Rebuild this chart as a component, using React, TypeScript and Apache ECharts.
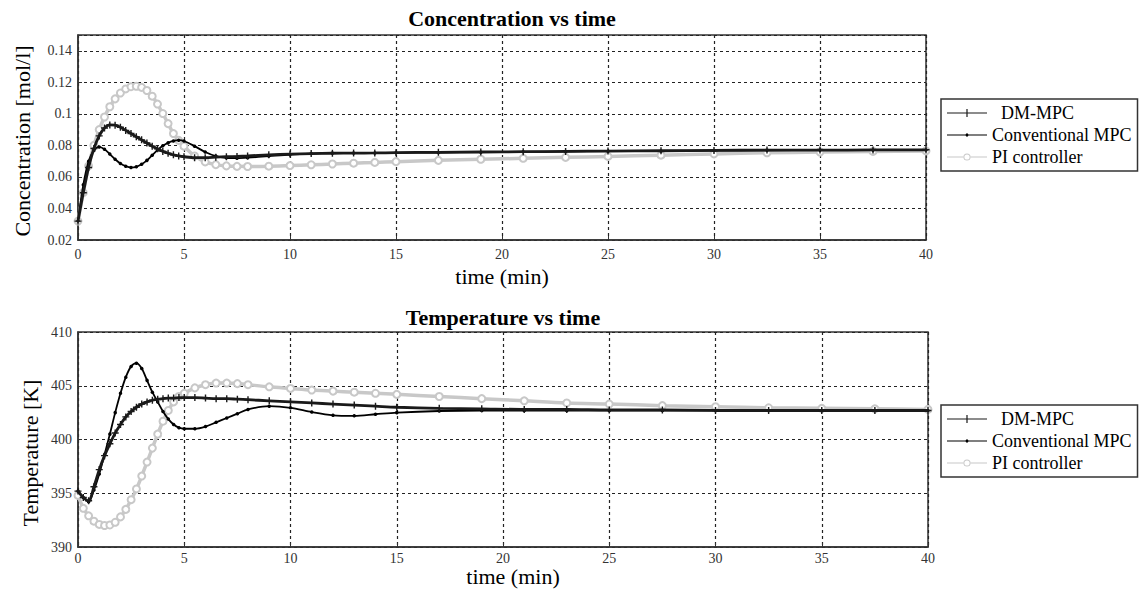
import React, { useEffect, useRef } from "react";
import * as echarts from "echarts";

const TIME = [0, 0.25, 0.5, 0.75, 1, 1.25, 1.5, 1.75, 2, 2.25, 2.5, 2.75, 3, 3.25, 3.5, 3.75, 4, 4.25, 4.5, 4.75, 5, 5.5, 6, 6.5, 7, 7.5, 8, 9, 10, 11, 12, 13, 14, 15, 17, 19, 21, 23, 25, 27.5, 30, 32.5, 35, 37.5, 40];

const CONC_DM = [0.032, 0.05, 0.066, 0.078, 0.086, 0.091, 0.093, 0.0928, 0.0915, 0.0895, 0.0875, 0.0855, 0.0835, 0.0815, 0.0795, 0.0778, 0.0762, 0.075, 0.074, 0.0733, 0.0728, 0.0722, 0.0722, 0.0725, 0.0728, 0.073, 0.0733, 0.074, 0.0745, 0.0748, 0.075, 0.0751, 0.0752, 0.0754, 0.0756, 0.0758, 0.076, 0.0762, 0.0764, 0.0766, 0.0768, 0.077, 0.077, 0.0771, 0.0772];
const CONC_CONV = [0.032, 0.055, 0.07, 0.0768, 0.079, 0.0775, 0.0745, 0.0712, 0.0685, 0.0668, 0.066, 0.0664, 0.068, 0.0705, 0.0738, 0.077, 0.0797, 0.0816, 0.0828, 0.0833, 0.0828, 0.0795, 0.0758, 0.0732, 0.0721, 0.0719, 0.0722, 0.0732, 0.0742, 0.0748, 0.0751, 0.0752, 0.0752, 0.0753, 0.0755, 0.0757, 0.0759, 0.0761, 0.0763, 0.0765, 0.0767, 0.0769, 0.077, 0.077, 0.0771];
const CONC_PI = [0.032, 0.05, 0.067, 0.08, 0.09, 0.098, 0.1045, 0.1095, 0.1132, 0.1158, 0.1172, 0.1175, 0.1168, 0.1148, 0.1112, 0.1062, 0.1002, 0.0938, 0.0875, 0.0832, 0.0795, 0.0733, 0.0695, 0.0678, 0.067, 0.0667, 0.0666, 0.0668, 0.0672, 0.0677, 0.0682, 0.0687, 0.0692, 0.0697, 0.0705, 0.0712, 0.0718, 0.0724, 0.073, 0.0738, 0.0746, 0.0753, 0.0758, 0.0762, 0.0765];

const TEMP_DM = [395.2, 394.6, 394.3, 395.6, 397.2, 398.5, 399.6, 400.6, 401.4, 402.1, 402.6, 403.0, 403.3, 403.5, 403.65, 403.75, 403.8, 403.85, 403.85, 403.9, 403.9, 403.9, 403.85, 403.8, 403.8, 403.75, 403.7, 403.6, 403.5, 403.4, 403.3, 403.2, 403.1, 403.0, 402.9, 402.85, 402.8, 402.8, 402.75, 402.75, 402.7, 402.7, 402.7, 402.7, 402.7];
const TEMP_CONV = [395.2, 394.6, 394.2, 395.3, 396.8, 398.6, 400.5, 402.5, 404.3, 405.8, 406.8, 407.1, 406.6, 405.5, 404.4, 403.5, 402.6, 401.9, 401.4, 401.1, 401.0, 401.0, 401.2, 401.6, 402.0, 402.4, 402.8, 403.1, 402.95, 402.55, 402.25, 402.2, 402.35, 402.5, 402.65, 402.7, 402.7, 402.7, 402.7, 402.7, 402.7, 402.7, 402.7, 402.7, 402.7];
const TEMP_PI = [394.8, 393.6, 392.9, 392.4, 392.1, 392.0, 392.05, 392.3, 392.8, 393.5, 394.4, 395.4, 396.6, 397.9, 399.2, 400.5, 401.7, 402.7, 403.5, 404.0, 404.3, 404.8, 405.1, 405.25, 405.25, 405.2, 405.1, 404.9, 404.75, 404.6, 404.5, 404.4, 404.3, 404.2, 404.0, 403.8, 403.6, 403.4, 403.3, 403.15, 403.05, 402.95, 402.9, 402.85, 402.8];

const SERIES_NAMES = ["DM-MPC", "Conventional MPC", "PI controller"];
const X_TICKS = [0, 5, 10, 15, 20, 25, 30, 35, 40];

const FONT = "Liberation Serif";
const PLUS = "path://M4,0 L6,0 L6,4 L10,4 L10,6 L6,6 L6,10 L4,10 L4,6 L0,6 L0,4 L4,4 Z";

// legend icons (40 x 12 box, corners pinned by tiny dots)
const PIN = "M0,0 L0.01,0 L0.01,0.01 Z M40,12 L39.99,12 L39.99,11.99 Z ";
const ICON_DM = "path://" + PIN + "M0,5.4 L40,5.4 L40,6.6 L0,6.6 Z M19.4,2 L20.6,2 L20.6,10 L19.4,10 Z";
const ICON_CONV = "path://" + PIN + "M0,5.4 L40,5.4 L40,6.6 L0,6.6 Z M20,4 L22,6 L20,8 L18,6 Z";
const ICON_PI = "path://" + PIN + "M0,5.5 L16.6,5.5 L16.6,6.5 L0,6.5 Z M23.4,5.5 L40,5.5 L40,6.5 L23.4,6.5 Z M23.6,6 A3.6,3.6 0 1 0 16.4,6 A3.6,3.6 0 1 0 23.6,6 Z M22.6,6 A2.6,2.6 0 1 1 17.4,6 A2.6,2.6 0 1 1 22.6,6 Z";
const ICONS = [ICON_DM, ICON_CONV, ICON_PI];

function pairs(vals: number[]) {
  return TIME.map((t, i) => [t, vals[i]]);
}

export default function App() {
  const ref = useRef<HTMLDivElement>(null);
  useEffect(() => {
    if (!ref.current) return;
    const chart = echarts.init(ref.current, null, { renderer: "svg" });
    const split = { show: true, lineStyle: { color: "#222", type: [3, 3] as any, width: 1.2 } };
    const axisLine = { show: true, lineStyle: { color: "#333", width: 1.5 } };
    const tickRich = { s: { fontFamily: FONT, fontSize: 14, color: "#333" } };
    const xAxisBase = (gi: number, margin: number) => ({
      type: "value",
      gridIndex: gi,
      min: X_TICKS[0],
      max: X_TICKS[X_TICKS.length - 1],
      interval: 5,
      axisLine,
      axisTick: { show: true, inside: true, length: 4, lineStyle: { color: "#333" } },
      axisLabel: { fontFamily: FONT, fontSize: 14, color: "#333", margin, rich: tickRich, formatter: (v: number) => `{s|${v}}` },
      splitLine: split,
    });
    const styles = [
      { color: "#1a1a1a", width: 2.8, symbol: PLUS, size: 7 },
      { color: "#000000", width: 1.8, symbol: "circle", size: 3.5 },
      { color: "#c8c8c8", width: 3.5, symbol: "emptyCircle", size: 7 },
    ];
    const concData = [CONC_DM, CONC_CONV, CONC_PI];
    const tempData = [TEMP_DM, TEMP_CONV, TEMP_PI];
    const order = [2, 1, 0];
    const series: any[] = [];
    for (const gi of [0, 1]) {
      for (const k of order) {
        const st = styles[k];
        series.push({
          type: "line",
          name: SERIES_NAMES[k],
          xAxisIndex: gi,
          yAxisIndex: gi,
          data: pairs(gi === 0 ? concData[k] : tempData[k]),
          smooth: 0.3,
          symbol: st.symbol,
          symbolSize: st.size,
          showSymbol: true,
          color: st.color,
          itemStyle: { color: st.color, borderColor: st.color, borderWidth: k === 2 ? 1.2 : 0 },
          lineStyle: { color: st.color, width: st.width },
          z: 3 + (2 - k),
        });
      }
    }
    const legendBase = (top: number) => ({
      orient: "vertical",
      left: 941,
      top,
      data: SERIES_NAMES.map((n, i) => ({ name: n, icon: ICONS[i] })),
      itemWidth: 40,
      itemHeight: 12,
      itemGap: 4,
      padding: [5, 6, 5, 6],
      borderColor: "#333",
      borderWidth: 1.5,
      selectedMode: false,
      itemStyle: { borderWidth: 0 },
      lineStyle: { width: 0 },
      formatter: (n: string) => (n === "DM-MPC" ? "{s|\u00a0\u00a0DM-MPC}" : `{s|${n}}`),
      textStyle: {
        fontFamily: FONT,
        fontSize: 18,
        color: "#000",
        lineHeight: 18,
        rich: { s: { fontFamily: FONT, fontSize: 18, color: "#000", lineHeight: 18 } },
      },
    });
    const text = (x: number, y: number, t: string, font: string, rot = 0) => ({
      type: "text",
      x,
      y,
      rotation: rot,
      style: { text: t, font, fill: "#000", align: "center", verticalAlign: "middle" },
    });
    chart.setOption({
      animation: false,
      backgroundColor: "#fff",
      textStyle: { fontFamily: FONT },
      grid: [
        { left: 78, top: 35, width: 848, height: 205, show: true, borderColor: "#333", borderWidth: 1.5 },
        { left: 78, top: 332, width: 850, height: 215, show: true, borderColor: "#333", borderWidth: 1.5 },
      ],
      xAxis: [xAxisBase(0, 7), xAxisBase(1, 4)],
      yAxis: [
        {
          type: "value",
          gridIndex: 0,
          min: 0.02,
          max: 0.15,
          interval: 0.02,
          axisLine,
          axisTick: { show: true, inside: true, length: 4, lineStyle: { color: "#333" } },
          axisLabel: {
            fontFamily: FONT,
            fontSize: 14,
            color: "#333",
            margin: 6,
            rich: tickRich,
            formatter: (v: number) => (Math.abs(v - 0.15) < 1e-6 ? "" : `{s|${Number(v.toFixed(2))}}`),
          },
          splitLine: split,
        },
        {
          type: "value",
          gridIndex: 1,
          min: 390,
          max: 410,
          interval: 5,
          axisLine,
          axisTick: { show: true, inside: true, length: 4, lineStyle: { color: "#333" } },
          axisLabel: { fontFamily: FONT, fontSize: 14, color: "#333", margin: 6, rich: tickRich, formatter: (v: number) => `{s|${v}}` },
          splitLine: split,
        },
      ],
      legend: [legendBase(99), legendBase(405)],
      graphic: [
        text(512, 18, "Concentration vs time", `bold 22px ${FONT}`),
        text(503, 317, "Temperature vs time", `bold 22px ${FONT}`),
        text(502, 276, "time (min)", `22px ${FONT}`),
        text(513, 576, "time (min)", `22px ${FONT}`),
        text(22, 141, "Concentration [mol/l]", `22px ${FONT}`, Math.PI / 2),
        text(30, 453, "Temperature [K]", `22px ${FONT}`, Math.PI / 2),
      ],
      series,
    });
    return () => chart.dispose();
  }, []);
  return <div ref={ref} style={{ position: "fixed", left: 0, top: 0, width: 1141, height: 590 }} />;
}
